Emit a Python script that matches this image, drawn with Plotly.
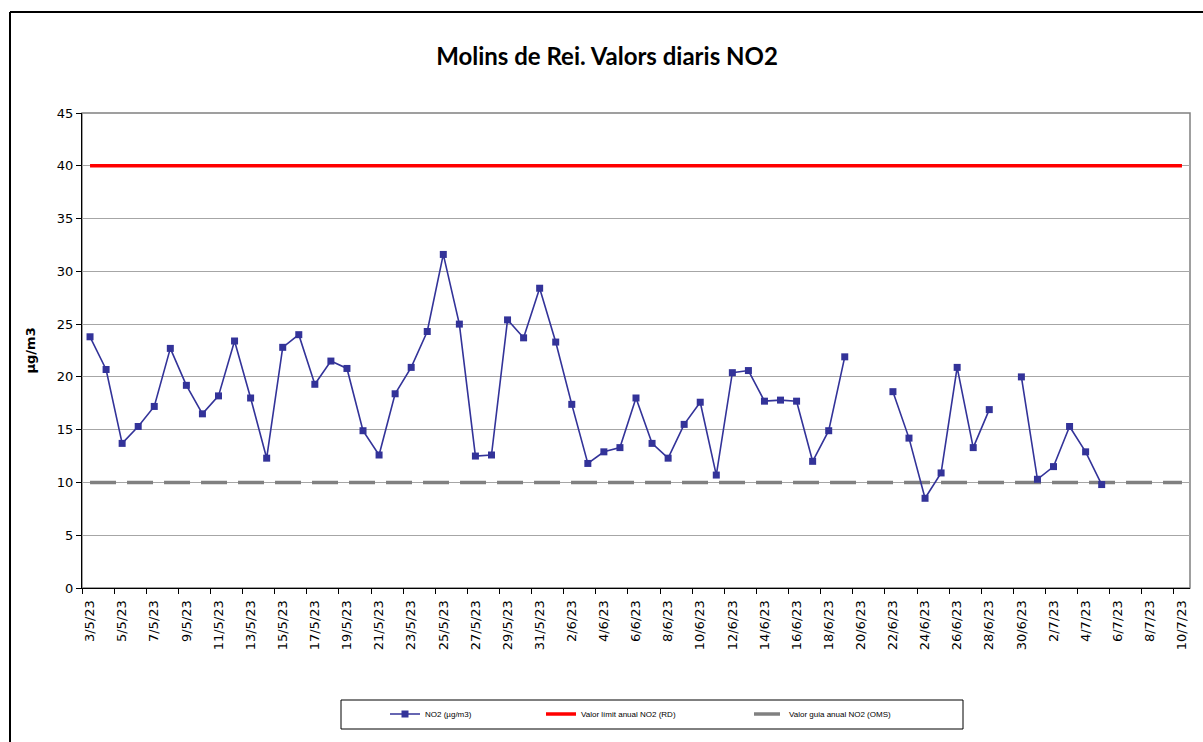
import plotly.graph_objects as go

dates = [
    "3/5/23", "4/5/23", "5/5/23", "6/5/23", "7/5/23", "8/5/23", "9/5/23", "10/5/23",
    "11/5/23", "12/5/23", "13/5/23", "14/5/23", "15/5/23", "16/5/23", "17/5/23", "18/5/23",
    "19/5/23", "20/5/23", "21/5/23", "22/5/23", "23/5/23", "24/5/23", "25/5/23", "26/5/23",
    "27/5/23", "28/5/23", "29/5/23", "30/5/23", "31/5/23",
    "1/6/23", "2/6/23", "3/6/23", "4/6/23", "5/6/23", "6/6/23", "7/6/23", "8/6/23",
    "9/6/23", "10/6/23", "11/6/23", "12/6/23", "13/6/23", "14/6/23", "15/6/23", "16/6/23",
    "17/6/23", "18/6/23", "19/6/23", "20/6/23", "21/6/23", "22/6/23", "23/6/23", "24/6/23",
    "25/6/23", "26/6/23", "27/6/23", "28/6/23", "29/6/23", "30/6/23",
    "1/7/23", "2/7/23", "3/7/23", "4/7/23", "5/7/23", "6/7/23", "7/7/23", "8/7/23",
    "9/7/23", "10/7/23",
]

no2 = [
    23.8, 20.7, 13.7, 15.3, 17.2, 22.7, 19.2, 16.5, 18.2, 23.4, 18.0, 12.3, 22.8, 24.0,
    19.3, 21.5, 20.8, 14.9, 12.6, 18.4, 20.9, 24.3, 31.6, 25.0, 12.5, 12.6, 25.4, 23.7, 28.4,
    23.3, 17.4, 11.8, 12.9, 13.3, 18.0, 13.7, 12.3, 15.5, 17.6, 10.7, 20.4, 20.6, 17.7,
    17.8, 17.7, 12.0, 14.9, 21.9, None, None, 18.6, 14.2, 8.5, 10.9, 20.9, 13.3, 16.9,
    None, 20.0,
    10.3, 11.5, 15.3, 12.9, 9.8, None, None, None, None, None,
]

limit_rd = 40
guide_oms = 10

series_names = ["NO2 (µg/m3)", "Valor límit anual NO2 (RD)", "Valor guia anual NO2 (OMS)"]
title_text = "Molins de Rei. Valors diaris NO2"
y_title = "µg/m3"

idx = list(range(len(dates)))

# plot area in pixels
L, R, T, B = 82, 1190, 113, 588
W, H = 1203, 742


def px(xp):
    return (xp - L) / (R - L)


def py(yp):
    return (B - yp) / (B - T)


fig = go.Figure()

fig.add_trace(go.Scatter(
    x=idx, y=[limit_rd] * len(idx), mode="lines", name=series_names[1],
    line=dict(color="#FF0000", width=3.5), legend="legend2", hoverinfo="skip",
))
fig.add_trace(go.Scatter(
    x=idx, y=[guide_oms] * len(idx), mode="lines", name=series_names[2],
    line=dict(color="#808080", width=3.5, dash="26px,11px"), legend="legend3", hoverinfo="skip",
))
fig.add_trace(go.Scatter(
    x=idx, y=no2, mode="lines+markers", name=series_names[0],
    line=dict(color="#333399", width=1.6),
    marker=dict(symbol="square", size=7, color="#333399"),
    connectgaps=False, legend="legend",
))

label_vals = idx[::2]
label_text = dates[::2]
boundaries = [i - 0.5 for i in idx[::2]]

fig.update_xaxes(
    range=[-0.5, len(idx) - 0.5],
    tickmode="array", tickvals=label_vals, ticktext=label_text,
    tickangle=-90, ticks="", ticklabelstandoff=6,
    tickfont=dict(family="DejaVu Sans", size=13, color="black"),
    showgrid=False, zeroline=False,
    showline=True, linecolor="black", linewidth=1,
    minor=dict(tickmode="array", tickvals=boundaries, ticks="outside", ticklen=5,
               tickcolor="black", tickwidth=1, showgrid=False),
)
fig.update_yaxes(
    range=[0, 45], dtick=5, tick0=0,
    ticks="outside", ticklen=5, tickcolor="black",
    tickfont=dict(family="DejaVu Sans", size=13, color="black"),
    showgrid=True, gridcolor="#A6A6A6", gridwidth=1,
    zeroline=False, showline=True, linecolor="black", linewidth=1,
)

leg_common = dict(
    orientation="h", yanchor="middle", xanchor="left",
    font=dict(family="Liberation Sans", size=8, color="black"),
    bgcolor="rgba(0,0,0,0)", borderwidth=0,
)
leg_y = py(714)

fig.update_layout(
    width=W, height=H, autosize=False,
    margin=dict(l=L, r=W - R, t=T, b=H - B),
    paper_bgcolor="white", plot_bgcolor="white",
    showlegend=True,
    title=dict(text="<b>" + title_text + "</b>", x=607 / W, xanchor="center",
               xref="container", yref="container", y=1 - 57 / H, yanchor="middle",
               font=dict(family="Lato", size=24, color="black")),
    legend=dict(x=px(385), y=leg_y, **leg_common),
    legend2=dict(x=px(541), y=leg_y, **leg_common),
    legend3=dict(x=px(749), y=leg_y, **leg_common),
    annotations=[dict(
        text="<b>" + y_title + "</b>", x=px(30), y=0.5, xref="paper", yref="paper",
        textangle=-90, showarrow=False, xanchor="center", yanchor="middle",
        font=dict(family="DejaVu Sans", size=13, color="black"),
    )],
    shapes=[
        # plot area gray border
        dict(type="rect", xref="paper", yref="paper", x0=0, x1=1, y0=0, y1=1,
             line=dict(color="#808080", width=1.5), layer="below"),
        # outer chart border (left and top visible)
        dict(type="line", xref="paper", yref="paper", x0=px(10), x1=px(10),
             y0=py(12), y1=py(760), line=dict(color="black", width=2)),
        dict(type="line", xref="paper", yref="paper", x0=px(10), x1=px(1220),
             y0=py(12), y1=py(12), line=dict(color="black", width=2)),
        # legend box
        dict(type="rect", xref="paper", yref="paper", x0=px(341), x1=px(963),
             y0=py(729), y1=py(700), line=dict(color="black", width=1)),
    ],
)

fig.write_html("out.html", config={"displayModeBar": False},
               post_script="document.body.style.margin='0';")
